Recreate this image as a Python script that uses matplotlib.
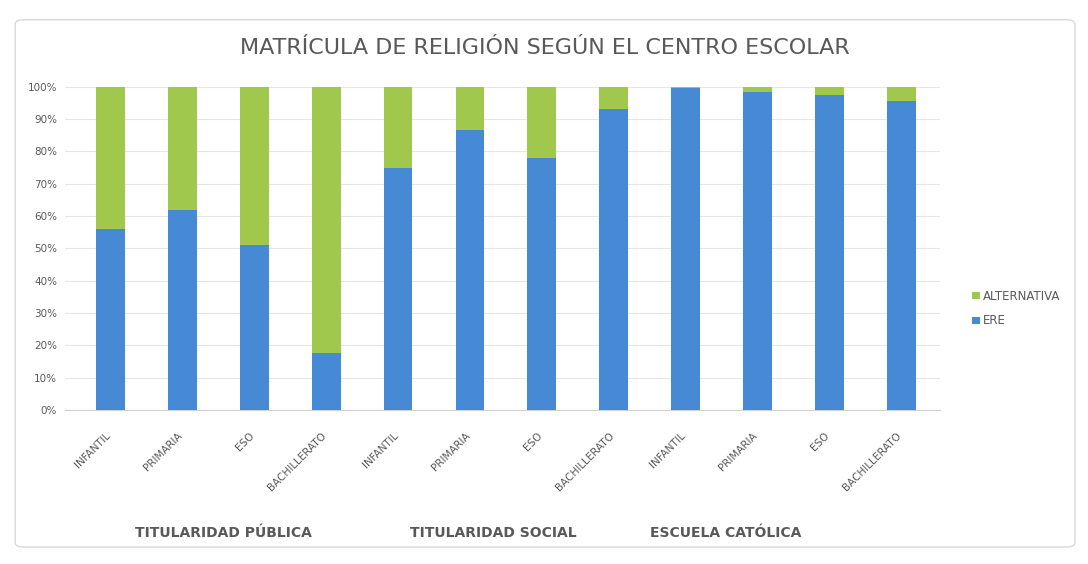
import matplotlib
matplotlib.use('Agg')
import matplotlib.pyplot as plt
from matplotlib.patches import FancyBboxPatch
from matplotlib.ticker import FuncFormatter

# Data (percentages)
niveles = ['INFANTIL', 'PRIMARIA', 'ESO', 'BACHILLERATO',
           'INFANTIL', 'PRIMARIA', 'ESO', 'BACHILLERATO',
           'INFANTIL', 'PRIMARIA', 'ESO', 'BACHILLERATO']
grupos = ['TITULARIDAD PÚBLICA', 'TITULARIDAD SOCIAL', 'ESCUELA CATÓLICA']
ere = [56, 62, 51, 17.5, 75, 86.5, 78, 93, 99.5, 98.5, 97.5, 95.5]
alternativa = [44, 38, 49, 82.5, 25, 13.5, 22, 7, 0.5, 1.5, 2.5, 4.5]

COLORS = {
    'ere': '#4689d4',
    'alt': '#9fc84c',
    'text': '#595959',
    'grid': '#e6e6e6',
    'axis': '#d0d0d0',
}

fig = plt.figure(figsize=(10.88, 5.64), dpi=100)
fig.patch.set_facecolor('white')

# rounded chart border (behind the axes)
frame = FancyBboxPatch((0.014, 0.03), 0.974, 0.935,
                       boxstyle='round,pad=0,rounding_size=0.008',
                       transform=fig.transFigure, facecolor='white',
                       edgecolor='#d9d9d9', linewidth=1.0, zorder=-1)
fig.patches.append(frame)

ax = fig.add_axes([0.060, 0.273, 0.804, 0.573])
ax.set_facecolor('none')
ax.set_zorder(2)
x = list(range(len(niveles)))
w = 0.40
ax.bar(x, ere, width=w, color=COLORS['ere'], label='ERE', zorder=3)
ax.bar(x, alternativa, width=w, bottom=ere, color=COLORS['alt'],
       label='ALTERNATIVA', zorder=3)

ax.set_xlim(-0.63, len(niveles) - 0.46)
ax.set_ylim(0, 100)
ax.set_yticks(range(0, 101, 10))
ax.yaxis.set_major_formatter(FuncFormatter(lambda v, p: f'{int(v)}%'))
ax.grid(True, axis='y', color=COLORS['grid'], linewidth=0.8, zorder=0)
for s in ['top', 'right', 'left']:
    ax.spines[s].set_visible(False)
ax.spines['bottom'].set_color(COLORS['axis'])
ax.tick_params(axis='y', length=0, labelsize=7.5, colors=COLORS['text'], pad=6)
ax.tick_params(axis='x', length=0, colors=COLORS['text'], pad=12)
ax.set_xticks(x)
# trailing spaces push each label a little left of its bar, like the original
ax.set_xticklabels([n + '  ' for n in niveles], rotation=45, ha='right',
                   rotation_mode='anchor', fontsize=7.5, color=COLORS['text'])

fig.text(0.501, 0.915, 'MATRÍCULA DE RELIGIÓN SEGÚN EL CENTRO ESCOLAR',
         ha='center', va='center', fontsize=16, color=COLORS['text'])

for i, g in enumerate(grupos):
    fig.text([0.205, 0.453, 0.667][i], 0.055, g, ha='center', va='center',
             fontsize=10, fontweight='bold', color=COLORS['text'])

handles, labels = ax.get_legend_handles_labels()
fig.legend(handles[::-1], labels[::-1], loc='center left',
           bbox_to_anchor=(0.884, 0.453), frameon=False, fontsize=8.5,
           labelcolor=COLORS['text'], handlelength=0.6, handleheight=0.6,
           handletextpad=0.3, labelspacing=1.0)

fig.savefig('out.png', dpi=100, facecolor='white')
